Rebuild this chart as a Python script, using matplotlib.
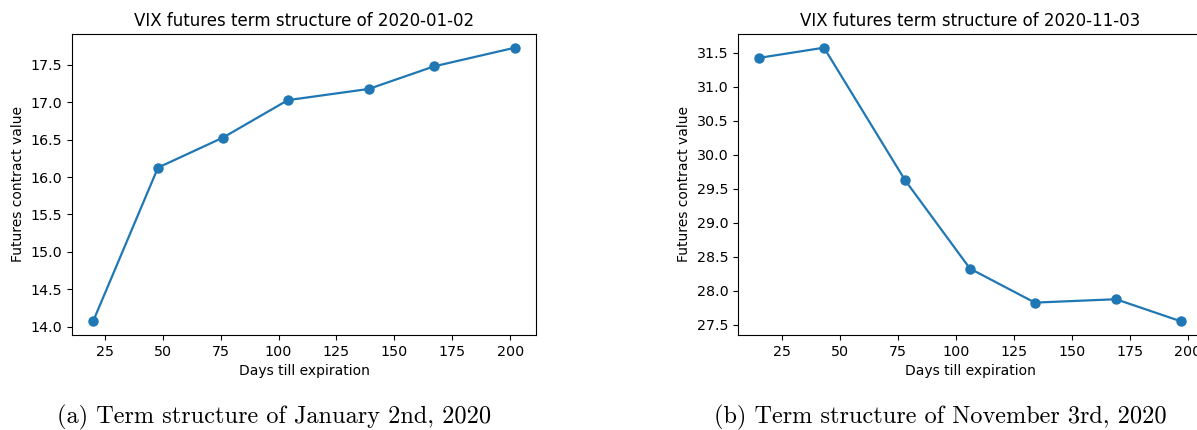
import matplotlib
matplotlib.use("Agg")
import matplotlib.pyplot as plt

# VIX futures settlement curves: days to expiration vs contract value
days_jan = [20, 48, 76, 104, 139, 167, 202]
vals_jan = [14.075, 16.125, 16.525, 17.025, 17.175, 17.475, 17.725]

days_nov = [15, 43, 78, 106, 134, 169, 197]
vals_nov = [31.425, 31.575, 29.625, 28.325, 27.825, 27.875, 27.55]

titles = ["VIX futures term structure of 2020-01-02",
          "VIX futures term structure of 2020-11-03"]
captions = ["(a) Term structure of January 2nd, 2020",
            "(b) Term structure of November 3rd, 2020"]

W, H = 1197, 430
fig = plt.figure(figsize=(W / 100, H / 100), dpi=100)

# axes boxes in pixels: left, top, width, height
boxes = [(72, 34, 464, 301), (738, 34, 464, 301)]
series = [(days_jan, vals_jan), (days_nov, vals_nov)]
yticks = [[14.0, 14.5, 15.0, 15.5, 16.0, 16.5, 17.0, 17.5],
          [27.5, 28.0, 28.5, 29.0, 29.5, 30.0, 30.5, 31.0, 31.5]]

for (l, t, w, h), (x, y), title, yt in zip(boxes, series, titles, yticks):
    ax = fig.add_axes([l / W, 1 - (t + h) / H, w / W, h / H])
    ax.plot(x, y, "o-", color="#1f77b4", lw=1.6, ms=6.5)
    ax.set_title(title, fontsize=12, pad=6)
    ax.set_xlabel("Days till expiration", fontsize=10)
    ax.set_ylabel("Futures contract value", fontsize=10)
    ax.set_xticks([25, 50, 75, 100, 125, 150, 175, 200])
    ax.set_yticks(yt)
    ax.yaxis.set_major_formatter(matplotlib.ticker.FormatStrFormatter("%.1f"))
    ax.tick_params(labelsize=10.3)

# subfigure captions
fig.text(274, H - 417, captions[0], transform=None, ha="center", va="center",
         fontsize=17.5, family="cmr10")
fig.text(940, H - 417, captions[1], transform=None, ha="center", va="center",
         fontsize=17.5, family="cmr10")

fig.savefig("out.png", dpi=100)
